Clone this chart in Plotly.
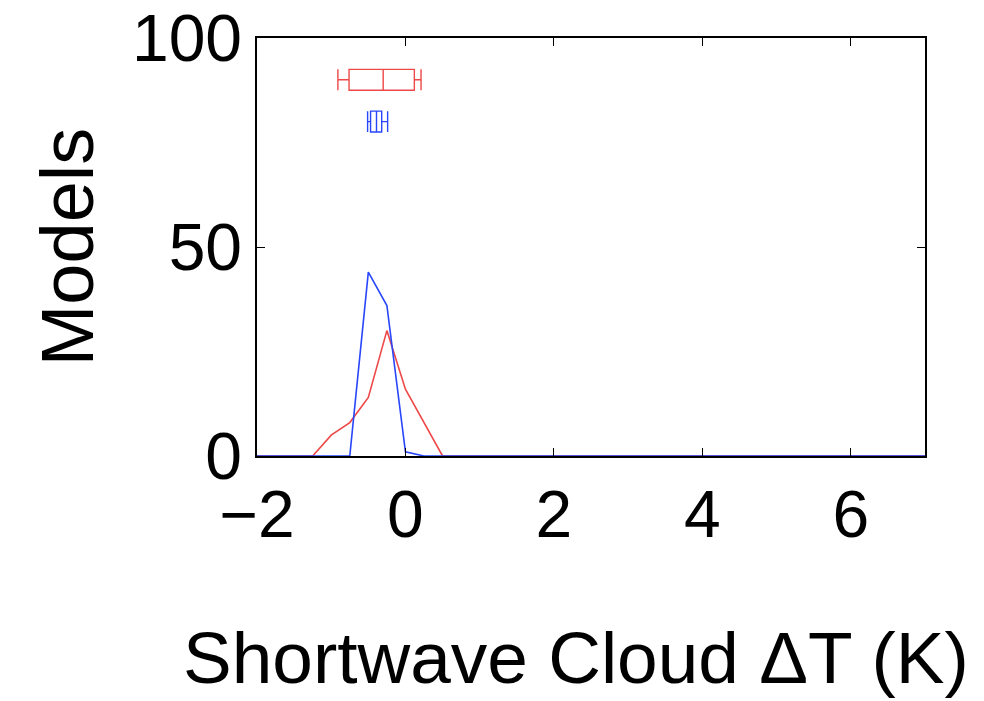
import plotly.graph_objects as go

# Histogram outlines (bin centre, number of models)
red_x = [-2.0, -1.25, -1.0, -0.75, -0.5, -0.25, 0.0, 0.25, 0.5, 7.0]
red_y = [0, 0, 5, 8, 14, 30, 16, 8, 0, 0]
blue_x = [-2.0, -0.75, -0.5, -0.25, 0.0, 0.25, 7.0]
blue_y = [0, 0, 44, 36, 1, 0, 0]

# Box summaries: [lower whisker, q1, median, q3, upper whisker], vertical position
red_box = [-0.91, -0.76, -0.30, 0.12, 0.21]
red_box_y = 90
blue_box = [-0.51, -0.47, -0.39, -0.32, -0.24]
blue_box_y = 80

x_ticks = [-2, 0, 2, 4, 6]
x_tick_text = ["\u22122", "0", "2", "4", "6"]
y_ticks = [0, 50, 100]

x_title = "Shortwave Cloud \u0394T (K)"
y_title = "Models"

RED = "rgb(238,72,72)"
BLUE = "rgb(40,70,250)"
FONT = "Liberation Sans, Arial, sans-serif"

fig = go.Figure()
fig.add_trace(go.Scatter(x=red_x, y=red_y, mode="lines",
                         line=dict(color=RED, width=1.6), showlegend=False))
fig.add_trace(go.Scatter(x=blue_x, y=blue_y, mode="lines",
                         line=dict(color=BLUE, width=1.6), showlegend=False))

for stats, yy, col in [(red_box, red_box_y, RED), (blue_box, blue_box_y, BLUE)]:
    fig.add_trace(go.Box(
        y=[yy], orientation="h",
        lowerfence=[stats[0]], q1=[stats[1]], median=[stats[2]],
        q3=[stats[3]], upperfence=[stats[4]],
        width=5, whiskerwidth=1,
        line=dict(color=col, width=1.4), fillcolor="rgba(0,0,0,0)",
        boxpoints=False, showlegend=False, hoverinfo="skip"))

fig.update_layout(
    width=984, height=701,
    margin=dict(l=257, r=59, t=38, b=245),
    paper_bgcolor="white", plot_bgcolor="white",
    font=dict(family=FONT, color="black"),
    showlegend=False,
    annotations=[dict(
        text=x_title, xref="paper", yref="paper",
        x=0.4775, y=-0.483, xanchor="center", yanchor="middle",
        showarrow=False, font=dict(size=73, family=FONT, color="black"))],
)
fig.update_xaxes(
    range=[-2, 7], tickvals=x_ticks, ticktext=x_tick_text,
    ticks="inside", ticklen=8, tickwidth=1.2, tickcolor="black",
    showline=True, linecolor="black", linewidth=1.5, mirror="ticks",
    showgrid=False, zeroline=False, automargin=False,
    tickfont=dict(size=66, family=FONT),
)
fig.update_yaxes(
    range=[0, 100], tickvals=y_ticks,
    ticks="inside", ticklen=8, tickwidth=1.2, tickcolor="black",
    showline=True, linecolor="black", linewidth=1.5, mirror="ticks",
    showgrid=False, zeroline=False, automargin=False,
    tickfont=dict(size=66, family=FONT),
    title=dict(text=y_title, font=dict(size=74, family=FONT), standoff=14),
)

fig.write_html("out.html")
